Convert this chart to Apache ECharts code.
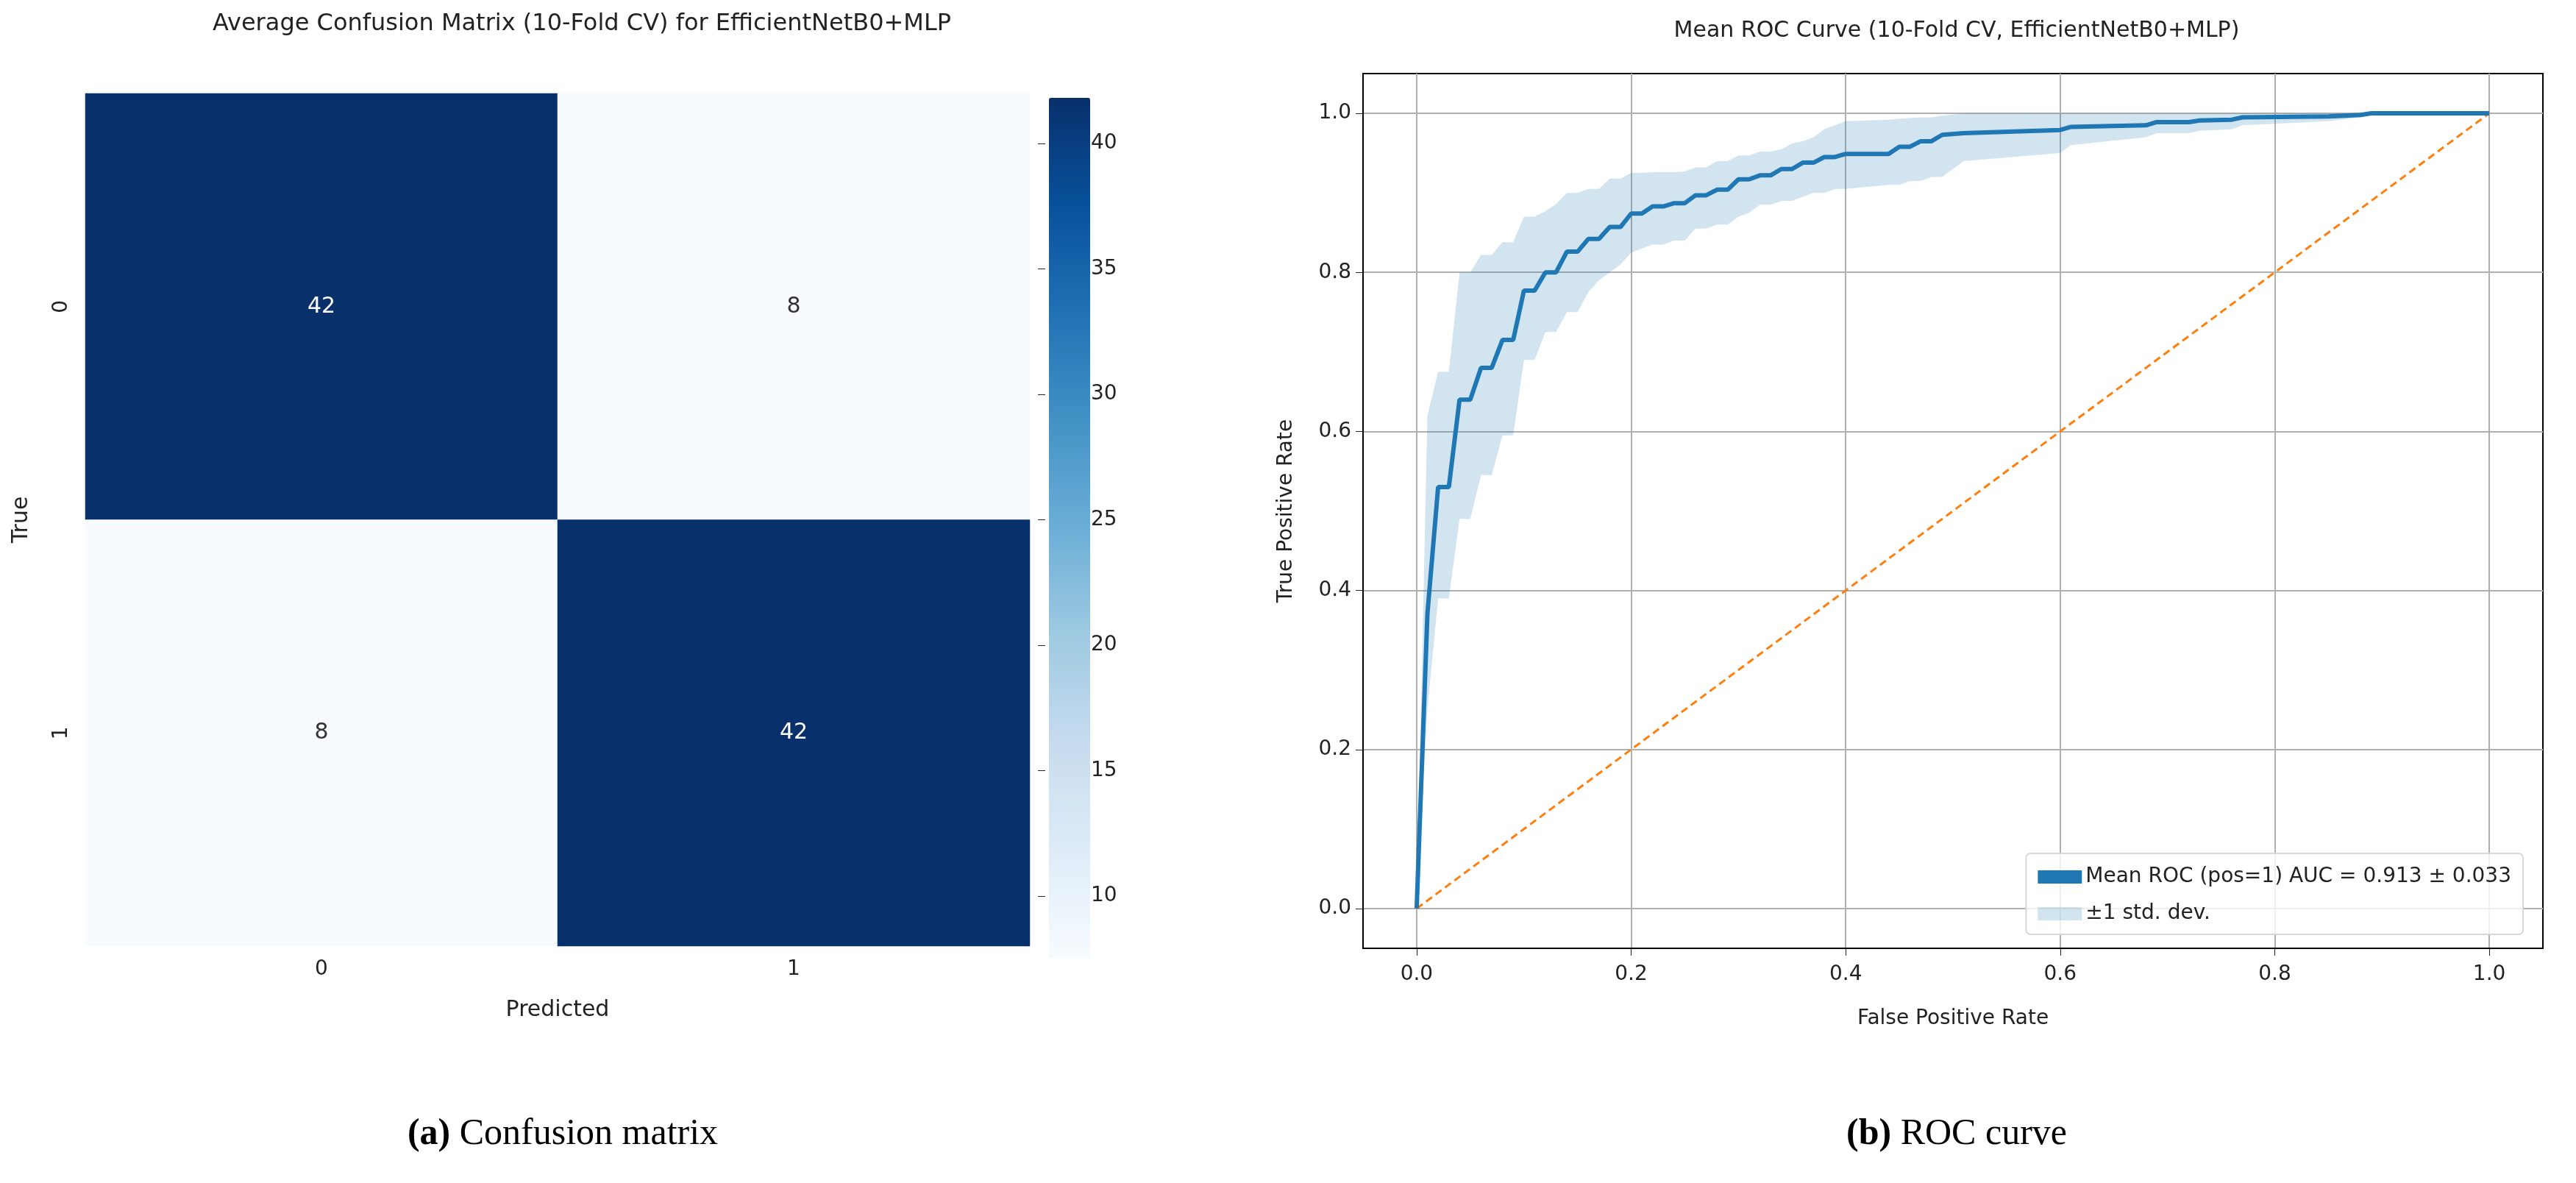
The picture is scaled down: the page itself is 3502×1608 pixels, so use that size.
<!DOCTYPE html>
<html>
<head>
<meta charset="utf-8">
<script src="https://cdn.jsdelivr.net/npm/echarts@6/dist/echarts.min.js"></script>
<style>
  html, body { margin: 0; padding: 0; background: #fff; }
  #container { width: 3502px; height: 1608px; }
</style>
</head>
<body>
<div id="container"></div>
<script>
// confusion matrix (rows = true, cols = predicted)
var cmLabels = ['0', '1'];
var cmValues = [[42, 8], [8, 42]];
var cbTicks = [10, 15, 20, 25, 30, 35, 40];

// mean roc + std band
var fpr = [0,0.01,0.02,0.03,0.04,0.05,0.06,0.07,0.08,0.09,0.10,0.11,0.12,0.13,0.14,0.15,0.16,0.17,0.18,0.19,
  0.20,0.21,0.22,0.23,0.24,0.25,0.26,0.27,0.28,0.29,0.30,0.31,0.32,0.33,0.34,0.35,0.36,0.37,0.38,0.39,
  0.40,0.44,0.45,0.46,0.47,0.48,0.49,0.51,0.60,0.61,0.68,0.69,0.72,0.73,0.76,0.77,0.85,0.88,0.89,1.0];
var tprMean = [0,0.37,0.53,0.53,0.64,0.64,0.68,0.68,0.715,0.715,0.777,0.777,0.80,0.80,0.826,0.826,0.842,0.842,0.857,0.857,
  0.874,0.874,0.883,0.883,0.887,0.887,0.897,0.897,0.904,0.904,0.917,0.917,0.922,0.922,0.93,0.93,0.938,0.938,0.945,0.945,
  0.949,0.949,0.958,0.958,0.965,0.965,0.973,0.975,0.979,0.983,0.985,0.989,0.989,0.991,0.992,0.995,0.996,0.998,1.0,1.0];
var tprUpper = [0,0.62,0.675,0.675,0.80,0.80,0.822,0.822,0.838,0.838,0.87,0.87,0.877,0.886,0.90,0.90,0.905,0.905,0.918,0.918,
  0.925,0.925,0.926,0.926,0.926,0.927,0.932,0.932,0.94,0.94,0.947,0.947,0.952,0.952,0.955,0.962,0.965,0.97,0.98,0.985,
  0.99,0.992,0.993,0.994,0.995,0.995,0.997,1,1,1,1,1,1,1,1,1,1,1,1,1];
var tprLower = [0,0.25,0.39,0.39,0.49,0.49,0.545,0.545,0.595,0.595,0.69,0.69,0.725,0.725,0.75,0.75,0.775,0.79,0.80,0.81,
  0.825,0.83,0.835,0.835,0.84,0.84,0.855,0.855,0.86,0.86,0.87,0.875,0.885,0.885,0.89,0.89,0.895,0.90,0.90,0.905,
  0.905,0.91,0.91,0.915,0.915,0.92,0.92,0.94,0.95,0.96,0.97,0.975,0.975,0.978,0.98,0.985,0.99,0.995,1,1];
var chanceLine = [[0, 0], [1, 1]];
var rocTicks = [0, 0.2, 0.4, 0.6, 0.8, 1.0];

var meanName = 'Mean ROC (pos=1) AUC = 0.913 \u00b1 0.033';
var bandName = '\u00b11 std. dev.';

var dom = document.getElementById('container');
var myChart = echarts.init(dom);

var FONT = 'DejaVu Sans';
var blues = ['#f7fbff','#deebf7','#c6dbef','#9ecae1','#6baed6','#4292c6','#2171b5','#08519c','#08306b'];

var heatData = [];
cmValues.forEach(function (row, i) {
    row.forEach(function (v, j) {
        heatData.push({value: [j, i, v], label: {color: v > 25 ? '#ffffff' : '#333333'}});
    });
});

var bandPoly = [];
fpr.forEach(function (x, i) { bandPoly.push([x, tprUpper[i]]); });
for (var k = fpr.length - 1; k >= 0; k--) bandPoly.push([fpr[k], tprLower[k]]);

var rocData = fpr.map(function (x, i) { return [x, tprMean[i]]; });

var option = {
    backgroundColor: '#fff',
    animation: false,
    textStyle: {fontFamily: FONT},
    title: [
        {text: 'Average Confusion Matrix (10-Fold CV) for EfficientNetB0+MLP', left: 786, top: 12, textAlign: 'center',
            textStyle: {fontFamily: FONT, fontSize: 32, fontWeight: 'normal', color: '#222'}},
        {text: 'Mean ROC Curve (10-Fold CV, EfficientNetB0+MLP)', left: 2655, top: 22, textAlign: 'center',
            textStyle: {fontFamily: FONT, fontSize: 30, fontWeight: 'normal', color: '#222'}},
        {text: '{b|(a)} Confusion matrix', left: 760, top: 1512, textAlign: 'center',
            textStyle: {fontFamily: 'Liberation Serif', fontSize: 50, fontWeight: 'normal', color: '#000',
                rich: {b: {fontFamily: 'Liberation Serif', fontSize: 50, fontWeight: 'bold'}}}},
        {text: '{b|(b)} ROC curve', left: 2655, top: 1512, textAlign: 'center',
            textStyle: {fontFamily: 'Liberation Serif', fontSize: 50, fontWeight: 'normal', color: '#000',
                rich: {b: {fontFamily: 'Liberation Serif', fontSize: 50, fontWeight: 'bold'}}}}
    ],
    legend: {
        data: [
            {name: meanName, icon: 'rect', itemStyle: {color: '#1f77b4'}},
            {name: bandName, icon: 'rect', itemStyle: {color: 'rgba(31,119,180,0.2)'}}
        ],
        orient: 'vertical', right: 72, top: 1160,
        itemWidth: 60, itemHeight: 18, itemGap: 22,
        padding: [18, 16, 14, 16],
        borderColor: '#d8d8d8', borderWidth: 2, borderRadius: 6, backgroundColor: 'rgba(255,255,255,0.8)',
        textStyle: {fontFamily: FONT, fontSize: 28, color: '#222'}
    },
    visualMap: {
        type: 'continuous', min: 8, max: 42, seriesIndex: 0,
        calculable: false, show: true, left: 1411, top: 118, itemWidth: 56, itemHeight: 1168,
        text: ['', ''], showLabel: false, inRange: {color: blues}
    },
    grid: [
        {left: 116, top: 127, width: 1284, height: 1159},
        {left: 1411, top: 127, width: 56, height: 1159},
        {left: 1853, top: 100, width: 1604, height: 1189, show: true, borderColor: '#000', borderWidth: 2}
    ],
    xAxis: [
        {gridIndex: 0, type: 'category', data: cmLabels, name: 'Predicted', nameLocation: 'middle', nameGap: 72,
            nameTextStyle: {fontSize: 30, color: '#222'},
            axisLine: {show: false}, axisTick: {length: 10, lineStyle: {color: '#222'}, alignWithLabel: true},
            axisLabel: {fontSize: 28, color: '#222', margin: 18}},
        {gridIndex: 1, type: 'value', show: false, min: 0, max: 1},
        {gridIndex: 2, type: 'value', min: -0.05, max: 1.05, name: 'False Positive Rate', nameLocation: 'middle',
            nameGap: 82, nameTextStyle: {fontSize: 28, color: '#222'},
            axisLine: {onZero: false, lineStyle: {color: '#000', width: 2}},
            axisTick: {length: 10, lineStyle: {color: '#222'}, customValues: rocTicks},
            axisLabel: {fontSize: 28, color: '#222', margin: 22, customValues: rocTicks,
                formatter: function (v) { return v.toFixed(1); }},
            splitLine: {show: true, lineStyle: {color: '#b0b0b0', width: 2}}}
    ],
    yAxis: [
        {gridIndex: 0, type: 'category', data: cmLabels, inverse: true, name: 'True', nameLocation: 'middle', nameGap: 72,
            nameTextStyle: {fontSize: 30, color: '#222'},
            axisLine: {show: false}, axisTick: {length: 10, lineStyle: {color: '#222'}, alignWithLabel: true},
            axisLabel: {fontSize: 28, color: '#222', rotate: 90, margin: 18}},
        {gridIndex: 1, type: 'value', position: 'right', min: 8, max: 42,
            axisLine: {show: false}, splitLine: {show: false},
            axisTick: {show: true, length: 10, lineStyle: {color: '#222'}, customValues: cbTicks},
            axisLabel: {fontSize: 28, color: '#222', margin: 16, customValues: cbTicks}},
        {gridIndex: 2, type: 'value', min: -0.05, max: 1.05, name: 'True Positive Rate', nameLocation: 'middle',
            nameGap: 90, nameTextStyle: {fontSize: 28, color: '#222'},
            axisLine: {onZero: false, lineStyle: {color: '#000', width: 2}},
            axisTick: {length: 10, lineStyle: {color: '#222'}, customValues: rocTicks},
            axisLabel: {fontSize: 28, color: '#222', margin: 16, customValues: rocTicks,
                formatter: function (v) { return v.toFixed(1); }},
            splitLine: {show: true, lineStyle: {color: '#b0b0b0', width: 2}}}
    ],
    series: [
        {
            type: 'heatmap', xAxisIndex: 0, yAxisIndex: 0, data: heatData,
            label: {show: true, fontSize: 30, fontFamily: FONT}
        },
        {
            name: bandName, type: 'custom', xAxisIndex: 2, yAxisIndex: 2, data: [0],
            renderItem: function (params, api) {
                return {
                    type: 'polygon',
                    shape: {points: bandPoly.map(function (p) { return api.coord(p); })},
                    style: {fill: 'rgba(31,119,180,0.2)'}
                };
            },
            itemStyle: {color: 'rgba(31,119,180,0.2)'}
        },
        {
            name: 'chance', type: 'line', xAxisIndex: 2, yAxisIndex: 2, data: chanceLine,
            symbol: 'none', lineStyle: {color: '#ff7f0e', width: 3, type: [10, 6]}
        },
        {
            name: meanName, type: 'line', xAxisIndex: 2, yAxisIndex: 2, data: rocData,
            symbol: 'none', lineStyle: {color: '#1f77b4', width: 6}, itemStyle: {color: '#1f77b4'}
        }
    ]
};
myChart.setOption(option, true);
</script>
</body>
</html>
